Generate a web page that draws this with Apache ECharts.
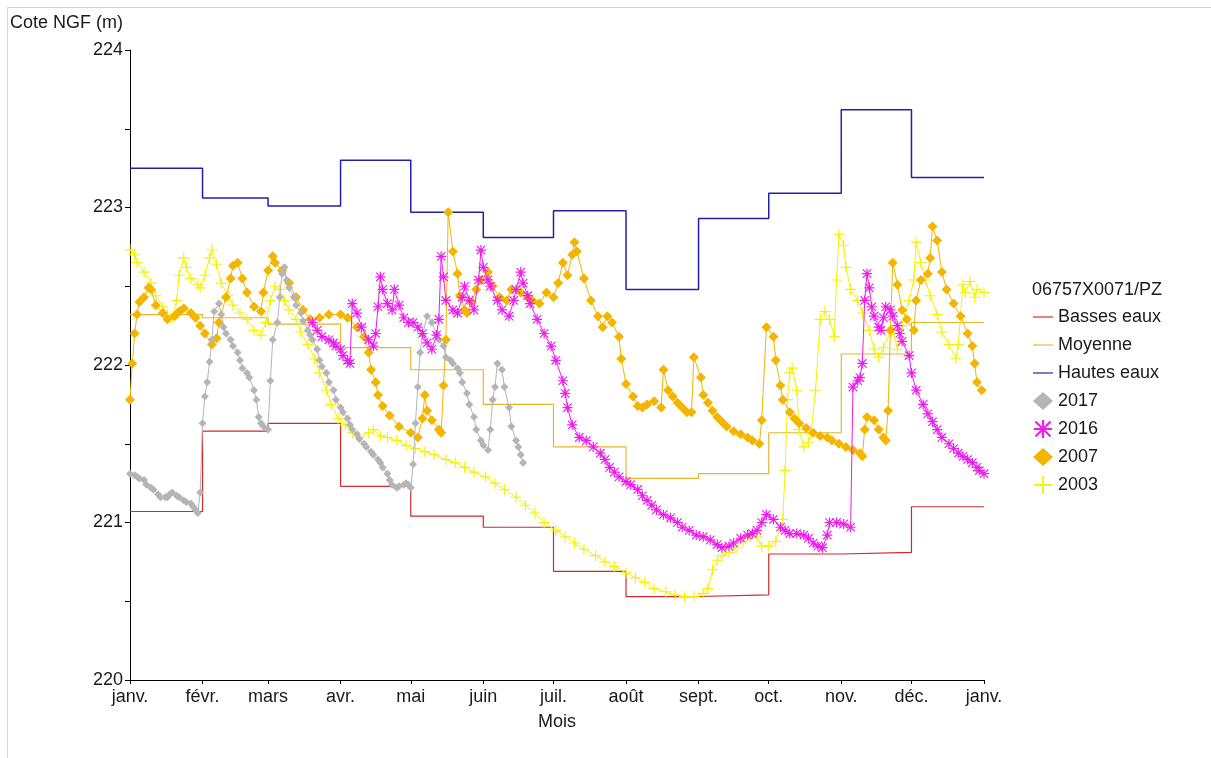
<!DOCTYPE html>
<html>
<head>
<meta charset="utf-8">
<title>06757X0071/PZ</title>
<script src="https://cdn.jsdelivr.net/npm/echarts@6/dist/echarts.min.js"></script>
<style>
  html, body { margin: 0; padding: 0; background: #fff; }
  #chart { width: 1211px; height: 758px; }
</style>
</head>
<body>
<div id="chart"></div>
<script>
// Day-of-year at the start of each month, and their labels
const monthStart = [0, 31, 59, 90, 120, 151, 181, 212, 243, 273, 304, 334, 365];
const monthLabels = ['janv.', 'févr.', 'mars', 'avr.', 'mai', 'juin', 'juil.', 'août', 'sept.', 'oct.', 'nov.', 'déc.', 'janv.'];
const yTicks = [220, 221, 222, 223, 224];

// Monthly reference levels (m NGF), January to December
const basseEaux = [221.07, 221.58, 221.63, 221.23, 221.04, 220.97, 220.69, 220.53, 220.54, 220.80, 220.81, 221.10];
const moyenne   = [222.32, 222.30, 222.26, 222.11, 221.97, 221.75, 221.48, 221.28, 221.31, 221.57, 222.07, 222.27];
const hautesEaux = [223.25, 223.06, 223.01, 223.30, 222.97, 222.81, 222.98, 222.48, 222.93, 223.09, 223.62, 223.19];

// Observed levels: [day of year, level in m NGF]
const obs2017 = [[0,221.31],[2,221.30],[3,221.29],[4,221.28],[6,221.27],[7,221.24],[9,221.22],[10,221.21],[12,221.18],[13,221.16],[15,221.16],[16,221.16],[17,221.18],[18,221.19],[20,221.17],[21,221.16],[23,221.14],[24,221.13],[26,221.12],[27,221.10],[28,221.08],[29,221.06],[30,221.19],[31,221.63],[32,221.80],[33,221.89],[34,222.02],[35,222.16],[36,222.34],[38,222.39],[39,222.32],[40,222.24],[41,222.20],[43,222.16],[44,222.12],[46,222.08],[47,222.03],[48,221.98],[50,221.95],[51,221.92],[53,221.84],[54,221.78],[55,221.67],[56,221.63],[57,221.61],[59,221.59],[60,221.90],[61,222.16],[63,222.27],[64,222.43],[65,222.58],[66,222.62],[67,222.54],[68,222.49],[70,222.43],[71,222.38],[73,222.33],[74,222.28],[76,222.22],[77,222.19],[78,222.16],[80,222.10],[81,222.03],[82,221.99],[84,221.95],[85,221.89],[87,221.84],[88,221.78],[90,221.73],[91,221.70],[93,221.66],[94,221.62],[95,221.59],[97,221.56],[98,221.53],[100,221.50],[101,221.48],[103,221.45],[104,221.43],[106,221.40],[107,221.38],[108,221.35],[110,221.31],[111,221.27],[112,221.24],[114,221.22],[115,221.23],[117,221.24],[118,221.25],[119,221.24],[120,221.22],[121,221.37],[122,221.63],[123,221.86],[124,222.08],[125,222.19],[127,222.31],[129,222.27],[131,222.20],[132,222.16],[134,222.12],[135,222.05],[137,222.03],[138,222.01],[140,221.98],[141,221.95],[142,221.89],[144,221.82],[145,221.75],[147,221.67],[148,221.59],[150,221.52],[151,221.49],[153,221.46],[154,221.59],[155,221.78],[156,221.86],[157,222.01],[159,221.97],[160,221.86],[162,221.73],[163,221.61],[165,221.52],[166,221.48],[167,221.43],[168,221.38]];

const obs2016 = [[78,222.27],[80,222.22],[82,222.18],[85,222.16],[87,222.14],[88,222.12],[90,222.10],[91,222.06],[93,222.03],[94,222.01],[95,222.39],[97,222.33],[99,222.24],[102,222.16],[104,222.12],[105,222.20],[106,222.37],[107,222.56],[108,222.48],[110,222.39],[112,222.35],[113,222.48],[115,222.38],[117,222.30],[119,222.27],[121,222.27],[123,222.24],[125,222.20],[127,222.14],[129,222.10],[131,222.19],[132,222.29],[133,222.69],[134,222.56],[135,222.41],[138,222.35],[140,222.33],[142,222.43],[143,222.50],[145,222.41],[147,222.35],[149,222.54],[150,222.73],[151,222.62],[153,222.54],[154,222.50],[157,222.41],[159,222.35],[162,222.31],[164,222.41],[165,222.48],[167,222.59],[168,222.52],[170,222.44],[171,222.39],[174,222.29],[177,222.20],[180,222.12],[182,222.03],[185,221.90],[186,221.82],[187,221.73],[189,221.62],[192,221.54],[195,221.52],[198,221.48],[201,221.44],[203,221.40],[205,221.35],[207,221.32],[209,221.29],[212,221.26],[214,221.24],[217,221.21],[219,221.17],[221,221.14],[223,221.11],[225,221.08],[228,221.05],[231,221.03],[234,221.00],[236,220.97],[239,220.95],[242,220.92],[245,220.91],[248,220.89],[251,220.86],[253,220.84],[256,220.85],[258,220.87],[261,220.90],[264,220.92],[266,220.93],[268,220.95],[270,221.00],[272,221.05],[275,221.02],[278,220.97],[280,220.95],[282,220.93],[285,220.93],[288,220.92],[290,220.90],[292,220.87],[294,220.85],[296,220.84],[298,220.92],[299,221.00],[302,221.00],[305,220.99],[308,220.97],[309,221.86],[311,221.90],[312,221.92],[313,222.01],[314,222.41],[315,222.58],[316,222.49],[317,222.37],[318,222.31],[320,222.24],[321,222.22],[322,222.30],[323,222.37],[325,222.35],[326,222.31],[328,222.25],[329,222.20],[330,222.15],[333,222.06],[334,221.95],[336,221.84],[339,221.75],[341,221.69],[343,221.64],[345,221.59],[347,221.54],[350,221.50],[352,221.47],[354,221.44],[356,221.42],[358,221.40],[360,221.38],[362,221.35],[363,221.33],[365,221.31]];

const obs2007 = [[0,221.78],[1,222.01],[2,222.20],[3,222.32],[4,222.40],[6,222.43],[8,222.49],[9,222.48],[11,222.38],[14,222.33],[16,222.29],[19,222.31],[21,222.34],[23,222.36],[26,222.33],[28,222.30],[30,222.25],[32,222.20],[35,222.13],[37,222.17],[38,222.27],[41,222.43],[43,222.55],[44,222.63],[46,222.65],[48,222.55],[50,222.46],[53,222.37],[56,222.34],[57,222.46],[59,222.60],[61,222.69],[62,222.65],[65,222.60],[68,222.52],[71,222.43],[74,222.35],[77,222.29],[81,222.30],[85,222.32],[90,222.32],[93,222.30],[97,222.24],[100,222.18],[102,222.08],[103,221.97],[105,221.89],[106,221.81],[108,221.74],[111,221.68],[115,221.61],[120,221.57],[123,221.54],[125,221.66],[126,221.81],[127,221.71],[129,221.65],[132,221.59],[133,221.57],[134,221.87],[135,222.16],[136,222.97],[138,222.72],[140,222.58],[141,222.44],[143,222.35],[144,222.33],[146,222.40],[148,222.48],[150,222.54],[153,222.59],[155,222.50],[158,222.43],[161,222.41],[163,222.48],[167,222.46],[170,222.43],[172,222.41],[175,222.39],[178,222.46],[181,222.43],[183,222.52],[185,222.65],[187,222.57],[189,222.70],[190,222.78],[191,222.72],[194,222.55],[197,222.41],[200,222.31],[202,222.24],[204,222.31],[206,222.27],[209,222.18],[210,222.04],[212,221.88],[215,221.80],[217,221.74],[219,221.73],[221,221.75],[224,221.77],[227,221.73],[228,221.97],[230,221.84],[232,221.80],[234,221.76],[236,221.73],[238,221.70],[240,221.70],[241,222.05],[244,221.92],[245,221.81],[247,221.76],[249,221.71],[251,221.67],[253,221.64],[255,221.61],[258,221.58],[261,221.56],[264,221.54],[266,221.52],[269,221.50],[270,221.65],[272,222.24],[275,222.18],[276,222.03],[278,221.87],[279,221.78],[282,221.70],[284,221.66],[286,221.63],[289,221.60],[292,221.57],[295,221.55],[298,221.54],[300,221.52],[303,221.50],[306,221.48],[309,221.46],[312,221.44],[313,221.42],[314,221.59],[315,221.67],[318,221.65],[320,221.59],[322,221.54],[323,221.52],[324,221.71],[325,222.22],[326,222.65],[328,222.51],[330,222.35],[332,222.29],[335,222.22],[336,222.41],[338,222.54],[341,222.58],[342,222.68],[343,222.88],[345,222.79],[347,222.59],[349,222.48],[352,222.39],[355,222.31],[358,222.20],[360,222.12],[361,222.01],[362,221.89],[364,221.84]];

const obs2003 = [[0,222.73],[2,222.70],[3,222.65],[6,222.59],[9,222.52],[11,222.44],[14,222.37],[16,222.32],[18,222.30],[20,222.41],[21,222.57],[23,222.68],[24,222.62],[26,222.55],[29,222.51],[30,222.49],[32,222.57],[34,222.68],[35,222.73],[37,222.64],[39,222.52],[42,222.44],[44,222.38],[47,222.33],[50,222.29],[53,222.22],[56,222.19],[58,222.27],[60,222.41],[62,222.50],[64,222.48],[66,222.41],[68,222.35],[71,222.29],[73,222.21],[76,222.13],[79,222.04],[81,221.95],[84,221.84],[86,221.75],[89,221.66],[92,221.62],[95,221.57],[98,221.54],[102,221.57],[104,221.59],[107,221.55],[110,221.54],[114,221.52],[118,221.49],[122,221.47],[126,221.45],[130,221.43],[135,221.40],[139,221.38],[143,221.35],[147,221.32],[152,221.29],[156,221.25],[160,221.21],[165,221.16],[169,221.11],[173,221.06],[177,221.00],[182,220.95],[186,220.91],[190,220.87],[194,220.83],[199,220.79],[203,220.75],[207,220.72],[212,220.68],[216,220.65],[220,220.62],[224,220.58],[229,220.56],[233,220.54],[237,220.53],[241,220.53],[245,220.55],[247,220.58],[249,220.70],[251,220.76],[253,220.79],[256,220.81],[259,220.84],[262,220.88],[265,220.91],[268,220.91],[270,220.85],[273,220.85],[276,220.88],[279,221.02],[280,221.33],[281,221.78],[282,221.95],[283,221.98],[285,221.84],[286,221.59],[288,221.48],[290,221.51],[291,221.56],[293,221.84],[295,222.29],[297,222.34],[299,222.29],[301,222.18],[302,222.54],[303,222.83],[305,222.76],[306,222.62],[308,222.48],[311,222.41],[313,222.33],[316,222.22],[318,222.10],[320,222.05],[322,222.11],[325,222.21],[326,222.22],[328,222.10],[330,222.25],[333,222.41],[335,222.54],[336,222.78],[338,222.65],[340,222.54],[342,222.44],[345,222.32],[347,222.21],[350,222.13],[353,222.04],[354,222.13],[356,222.51],[357,222.46],[359,222.53],[361,222.43],[362,222.48],[365,222.46]];

// Monthly values become a step line: each value holds until the next month starts
function monthlySteps(values) {
  const pts = values.map((v, i) => [monthStart[i], v]);
  pts.push([monthStart[12], values[values.length - 1]]);
  return pts;
}

const FONT = 'Liberation Sans, Arial, sans-serif';
const FONT_SIZE = 18;
const TEXT = '#1a1a1a';

const plusSymbol = 'path://M4.5,0H5.5V10H4.5Z M0,4.5H10V5.5H0Z';
const starSymbol = 'path://M4.4,0H5.6V10H4.4Z M0,4.4H10V5.6H0Z M1.2,0.4L9.6,8.8L8.8,9.6L0.4,1.2Z M8.8,0.4L9.6,1.2L1.2,9.6L0.4,8.8Z';
const legendLine = 'path://M0,0H24V1.4H0Z';

const colors = {
  basse: '#d02a2a',
  moyenne: '#e8b52a',
  haute: '#2020a8',
  y2017: '#b5b5b5',
  y2016: '#ee1aee',
  y2007: '#f3b500',
  y2003: '#f6f200'
};

function stepSeries(name, values, color, width) {
  return {
    name, type: 'line', step: 'end', data: monthlySteps(values),
    symbol: 'none', silent: true, z: 1,
    lineStyle: { color, width }, itemStyle: { color }
  };
}

function yearSeries(name, data, color, symbol, size, z) {
  return {
    name, type: 'line', data, z,
    symbol, symbolSize: size, showAllSymbol: true,
    lineStyle: { color, width: 1 }, itemStyle: { color },
    silent: true
  };
}

const chart = echarts.init(document.getElementById('chart'), null, { renderer: 'canvas' });
chart.setOption({
  animation: false,
  backgroundColor: '#ffffff',
  textStyle: { fontFamily: FONT },
  title: [
    { text: 'Cote NGF (m)', left: 5, top: 9, textStyle: { fontFamily: FONT, fontSize: FONT_SIZE, fontWeight: 'normal', color: TEXT } },
    { text: '06757X0071/PZ', left: 1027, top: 276, textStyle: { fontFamily: FONT, fontSize: FONT_SIZE, fontWeight: 'normal', color: TEXT } }
  ],
  graphic: [
    { type: 'rect', shape: { x: 7.5, y: 7.5, width: 1220, height: 770 }, style: { fill: 'none', stroke: '#d4d4d4', lineWidth: 1 }, silent: true }
  ],
  legend: {
    orient: 'vertical', left: 1028, top: 303,
    itemWidth: 20, itemHeight: 18, itemGap: 10,
    textStyle: { fontFamily: FONT, fontSize: FONT_SIZE, color: TEXT },
    selectedMode: false,
    data: [
      { name: 'Basses eaux', icon: legendLine },
      { name: 'Moyenne', icon: legendLine },
      { name: 'Hautes eaux', icon: legendLine },
      { name: '2017', icon: 'diamond' },
      { name: '2016', icon: starSymbol },
      { name: '2007', icon: 'diamond' },
      { name: '2003', icon: plusSymbol }
    ]
  },
  grid: { left: 130, top: 50, right: 227, bottom: 78, containLabel: false },
  xAxis: {
    type: 'value', min: 0, max: 365,
    name: 'Mois', nameLocation: 'middle', nameGap: 33,
    nameTextStyle: { fontFamily: FONT, fontSize: FONT_SIZE, color: TEXT },
    axisLine: { show: true, lineStyle: { color: '#000', width: 1 } },
    axisTick: { show: true, customValues: monthStart, length: 4, inside: false, lineStyle: { color: '#000' } },
    axisLabel: {
      customValues: monthStart, margin: 8,
      fontFamily: FONT, fontSize: FONT_SIZE, color: TEXT,
      formatter: v => monthLabels[monthStart.indexOf(v)]
    },
    splitLine: { show: false }
  },
  yAxis: {
    type: 'value', min: 220, max: 224, interval: 0.5,
    axisLine: { show: true, lineStyle: { color: '#000', width: 1 } },
    axisTick: { show: true, length: 5, lineStyle: { color: '#000' } },
    axisLabel: {
      margin: 7, fontFamily: FONT, fontSize: FONT_SIZE, color: TEXT,
      formatter: v => (yTicks.indexOf(v) >= 0 ? String(v) : '')
    },
    splitLine: { show: false }
  },
  series: [
    stepSeries('Basses eaux', basseEaux, colors.basse, 1.2),
    stepSeries('Moyenne', moyenne, colors.moyenne, 1.2),
    stepSeries('Hautes eaux', hautesEaux, colors.haute, 1.5),
    yearSeries('2017', obs2017, colors.y2017, 'diamond', 8, 4),
    yearSeries('2016', obs2016, colors.y2016, starSymbol, 10, 5),
    yearSeries('2007', obs2007, colors.y2007, 'diamond', 10, 3),
    yearSeries('2003', obs2003, colors.y2003, plusSymbol, 11, 2)
  ]
});
</script>
</body>
</html>
